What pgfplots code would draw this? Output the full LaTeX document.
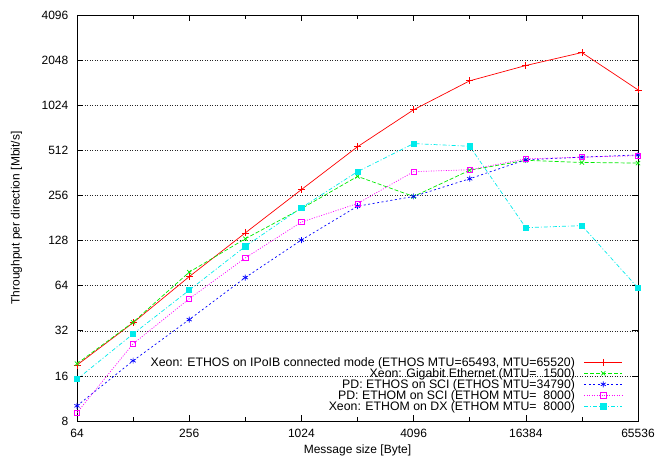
\documentclass[border=0pt]{standalone}
\usepackage{fontspec}
\setmainfont{Liberation Sans}
\usepackage{pgfplots}
\pgfplotsset{compat=1.18}
\definecolor{gpred}{RGB}{255,0,0}
\definecolor{gpgreen}{RGB}{0,235,0}
\definecolor{gpblue}{RGB}{0,0,255}
\definecolor{gpmag}{RGB}{255,0,255}
\definecolor{gpcyan}{RGB}{0,235,235}
\begin{document}
\begin{tikzpicture}
\begin{axis}[
  name=ax,
  scale only axis, width=561bp, height=406bp,
  xmode=log, ymode=log, log basis x=2, log basis y=2,
  xmin=64, xmax=65536, ymin=8, ymax=4096,
  xtick={64,256,1024,4096,16384,65536},
  xticklabels={64,256,1024,4096,16384,65536},
  extra x ticks={128,512,2048,8192,32768},
  extra x tick labels={},
  extra x tick style={major tick length=4bp},
  ytick={8,16,32,64,128,256,512,1024,2048,4096},
  yticklabels={8,16,32,64,128,256,512,1024,2048,4096},
  tick align=inside, major tick length=6bp,
  tick style={black, line width=0.6bp},
  axis line style={line width=0.8bp},
  ymajorgrids,
  grid style={black!85, line width=0.5bp, dash pattern=on 1bp off 1.5bp},
  font=\fontsize{12bp}{13bp}\selectfont,
  xticklabel style={anchor=north, inner sep=0pt, yshift=-8bp},
  yticklabel style={anchor=east, inner sep=0pt, xshift=-8.5bp},
  xlabel={Message size [Byte]},
  ylabel={Throughput per direction [Mbit/s]},
  xlabel style={at={(axis description cs:0.5,-0.073)}, anchor=center},
  ylabel style={at={(axis description cs:-0.108,0.5)}, anchor=center},
  legend style={at={(0.973,0.018)}, anchor=south east, draw=none, fill=none,
    font=\fontsize{12.3bp}{13bp}\selectfont,
    cells={anchor=east}, row sep=-3.4bp, inner sep=0pt},
  legend plot pos=right,
  legend image code/.code={\path (0bp,0bp);
    \draw[mark repeat=2,mark phase=2,#1]
    plot coordinates {(7bp,0bp) (26bp,0bp) (45bp,0bp)};},
  every axis plot/.append style={line width=0.7bp},
]
\addplot[gpred, mark=+, mark size=3.5bp, mark options={solid}] coordinates
  {(64,18.9) (128,36.2) (256,73.5) (512,144) (1024,280) (2048,541)
   (4096,955) (8192,1490) (16384,1885) (32768,2300) (65536,1296)};
\addlegendentry{Xeon: ETHOS on IPoIB connected mode (ETHOS MTU=65493, MTU=65520)}
\addplot[gpgreen, dash pattern=on 4bp off 2bp, mark=x, mark size=3bp, mark options={solid}] coordinates
  {(64,19.3) (128,36.5) (256,78.8) (512,131.6) (1024,209) (2048,343)
   (4096,252) (8192,377) (16384,439) (32768,425) (65536,421)};
\addlegendentry{Xeon: Gigabit Ethernet (MTU=\ \ 1500)}
\addplot[gpblue, dash pattern=on 2bp off 2.5bp, mark=asterisk, mark size=3bp, mark options={solid}] coordinates
  {(64,10.1) (128,20.2) (256,38) (512,72.5) (1024,129) (2048,217)
   (4096,252) (8192,331) (16384,443) (32768,461) (65536,477)};
\addlegendentry{PD: ETHOS on SCI (ETHOS MTU=34790)}
\addplot[gpmag, dash pattern=on 1bp off 1.5bp, mark=square, mark size=2.6bp, mark options={solid}] coordinates
  {(64,9.1) (128,26.2) (256,52.3) (512,98) (1024,170) (2048,226)
   (4096,369) (8192,380) (16384,449) (32768,461) (65536,472)};
\addlegendentry{PD: ETHOM on SCI (ETHOM MTU=\ \ 8000)}
\addplot[gpcyan, dash pattern=on 4bp off 2bp on 1bp off 2bp, mark=square*, mark size=2.6bp, mark options={solid}] coordinates
  {(64,15.2) (128,30.5) (256,59.7) (512,117) (1024,212) (2048,369)
   (4096,568) (8192,545) (16384,156) (32768,161) (65536,61.8)};
\addlegendentry{Xeon: ETHOM on DX (ETHOM MTU=\ \ 8000)}
\end{axis}
\pgfresetboundingbox
\path[use as bounding box] ([shift={(-77bp,-38bp)}]ax.south west) rectangle ([shift={(20bp,15bp)}]ax.north east);
\end{tikzpicture}
\end{document}
